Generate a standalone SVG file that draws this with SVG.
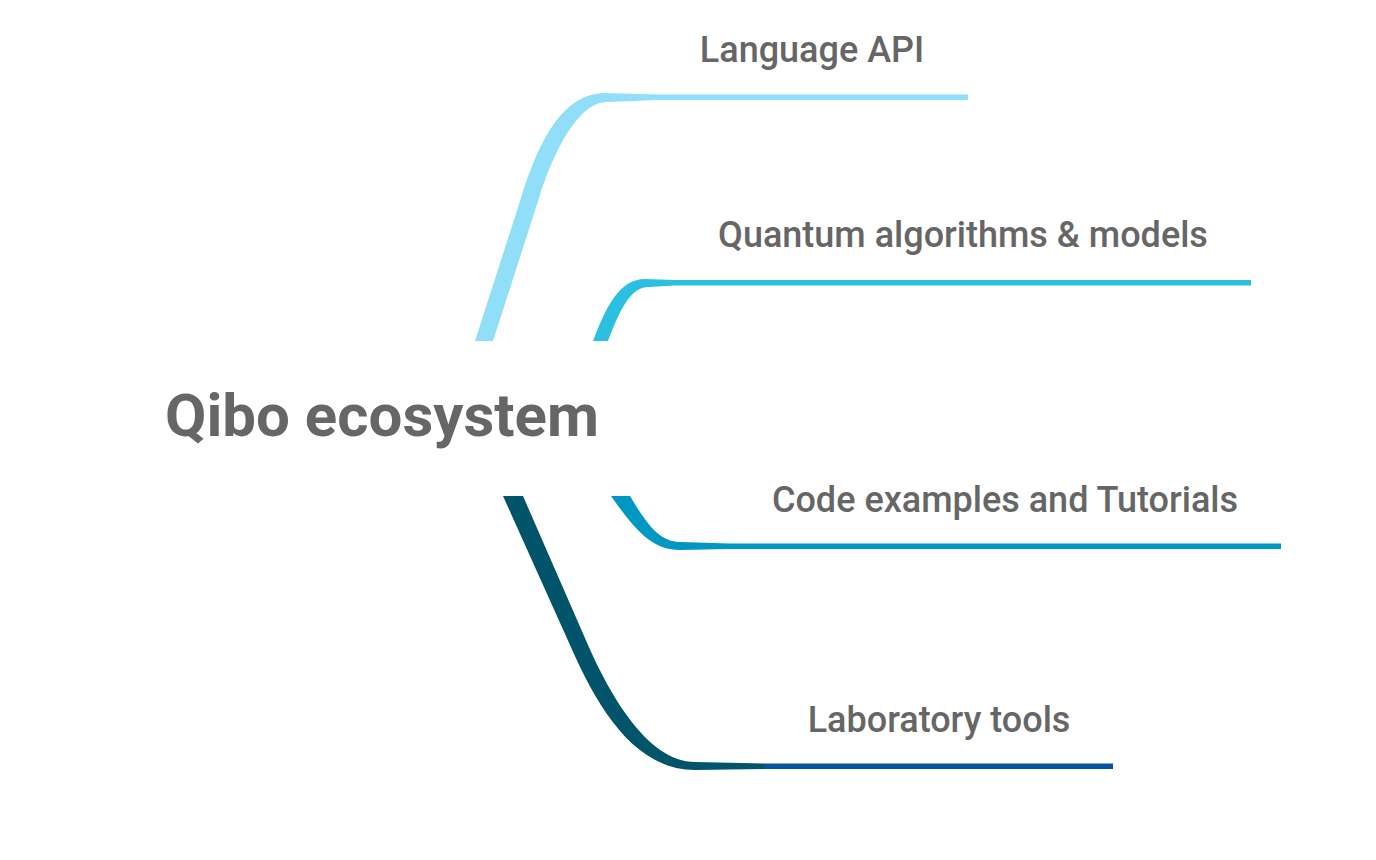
<svg xmlns="http://www.w3.org/2000/svg" width="1376" height="860" viewBox="0 0 1376 860">
<style>
.lbl{font-family:Roboto,"Liberation Sans",sans-serif;font-weight:500;font-size:36px;fill:#666666;text-anchor:middle}
.root{font-family:Roboto,"Liberation Sans",sans-serif;font-weight:700;font-size:60px;fill:#666666;text-anchor:middle}
.b1{fill:#90def8}
.b2{fill:#2bbfe0}
.b3{fill:#0097c2}
.b4{fill:#02546b}
.b4h{fill:#0357a0}
</style>
<rect width="1376" height="860" fill="#ffffff"/>
<g id="connectors">
<path class="b1" d="M475,341 L522,195 C537,148 560,93 605,93 L658,94.5 L658,100 L607,102 C578,102 554,152 540,195 L493,341 Z"/>
<rect class="b1" x="658" y="94.5" width="310" height="5.5"/>
<path class="b2" d="M593,341 C605,310 618,279 645,279 L675,280 L675,285.5 L649,287 C630,287 620,310 608,341 Z"/>
<rect class="b2" x="675" y="280" width="576" height="5.5"/>
<path class="b3" d="M611,496 C635,530 652,550 680,550 L729,549 L729,543.5 L681,542 C662,542 650,530 630,496 Z"/>
<rect class="b3" x="729" y="543.5" width="552" height="5.5"/>
<path class="b4" d="M503,496 L570,645 C593,697 630,770 695,770 L765,769 L765,763.5 L695,762 C648,762 610,695 588,645 L523,496 Z"/>
<rect class="b4h" x="765" y="763.5" width="348" height="5.5"/>
</g>
<g id="root"><text class="root" x="382" y="436">Qibo ecosystem</text></g>
<g id="n1"><text class="lbl" x="812" y="62">Language API</text></g>
<g id="n2"><text class="lbl" x="963" y="247">Quantum algorithms &amp; models</text></g>
<g id="n3"><text class="lbl" x="1005" y="512">Code examples and Tutorials</text></g>
<g id="n4"><text class="lbl" x="939" y="732">Laboratory tools</text></g>
</svg>
